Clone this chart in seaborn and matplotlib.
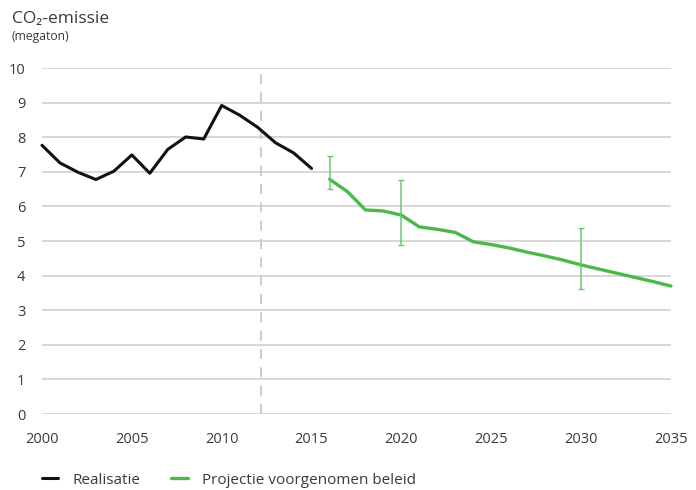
import matplotlib
matplotlib.use('Agg')
import matplotlib.pyplot as plt
import pandas as pd
import seaborn as sns
from matplotlib.lines import Line2D

# Realisatie (historical emissions, megaton)
years_real = [2000, 2001, 2002, 2003, 2004, 2005, 2006, 2007,
              2008, 2009, 2010, 2011, 2012, 2013, 2014, 2015]
real = [7.77, 7.26, 6.99, 6.78, 7.02, 7.49, 6.96, 7.65,
        8.01, 7.95, 8.92, 8.64, 8.29, 7.84, 7.55, 7.10]

# Projectie voorgenomen beleid
years_proj = [2016, 2017, 2018, 2019, 2020, 2021, 2022, 2023, 2024, 2025,
              2026, 2027, 2028, 2029, 2030, 2031, 2032, 2033, 2034, 2035]
proj = [6.79, 6.43, 5.90, 5.87, 5.75, 5.41, 5.34, 5.25, 4.98, 4.90,
        4.80, 4.68, 4.57, 4.45, 4.31, 4.19, 4.07, 3.95, 3.83, 3.70]

# uncertainty ranges
err_years = [2016, 2020, 2030]
err_mid = [6.79, 5.75, 4.31]
err_low = [6.50, 4.88, 3.62]
err_high = [7.47, 6.77, 5.38]

xticks = [2000, 2005, 2010, 2015, 2020, 2025, 2030, 2035]
yticks = list(range(0, 11))

df_real = pd.DataFrame({'year': years_real, 'value': real})
df_proj = pd.DataFrame({'year': years_proj, 'value': proj})

sns.set_theme(style='whitegrid')
plt.rcParams['font.family'] = ['Open Sans', 'DejaVu Sans']

black = '#111111'
green = '#4db848'
text_col = '#3a3a3a'

fig = plt.figure(figsize=(6.96, 4.90), dpi=100)
ax = fig.add_axes([0.0603, 0.155, 0.9037, 0.706])

sns.lineplot(data=df_real, x='year', y='value', color=black, lw=2.2, ax=ax, clip_on=False)
sns.lineplot(data=df_proj, x='year', y='value', color=green, lw=2.4, ax=ax, clip_on=False)

lo = [m - l for m, l in zip(err_mid, err_low)]
hi = [h - m for m, h in zip(err_mid, err_high)]
ax.errorbar(err_years, err_mid, yerr=[lo, hi], fmt='none', ecolor='#6cc66c',
            elinewidth=1.1, capsize=2.5, capthick=1.0, clip_on=False, zorder=4)

ax.axvline(2012.2, color='#c4c4c4', lw=1.2, ls=(0, (6, 5)), zorder=1)

ax.set_xlim(2000, 2035)
ax.set_ylim(0, 10)
ax.set_xticks(xticks)
ax.set_yticks(yticks)
ax.grid(axis='x', visible=False)
ax.grid(axis='y', color='#cdcdcd', lw=1.1)
for s in ax.spines.values():
    s.set_visible(False)
ax.tick_params(axis='x', length=0, pad=13, labelsize=10.5, labelcolor=text_col)
ax.tick_params(axis='y', length=0, pad=12, labelsize=10.5, labelcolor=text_col)
ax.set_xlabel('')
ax.set_ylabel('')

fig.text(0.017, 0.962, 'CO\u2082-emissie', fontsize=12.5, color=text_col, va='center')
fig.text(0.017, 0.925, '(megaton)', fontsize=8.7, color=text_col, va='center')

handles = [Line2D([], [], color=black, lw=2.2), Line2D([], [], color=green, lw=2.4)]
fig.legend(handles, ['Realisatie', 'Projectie voorgenomen beleid'],
           loc='center left', bbox_to_anchor=(0.04, 0.02), ncol=2, frameon=False,
           handlelength=1.1, handletextpad=0.9, columnspacing=2.05,
           fontsize=11, labelcolor=text_col)

fig.savefig('out.png', dpi=100)
